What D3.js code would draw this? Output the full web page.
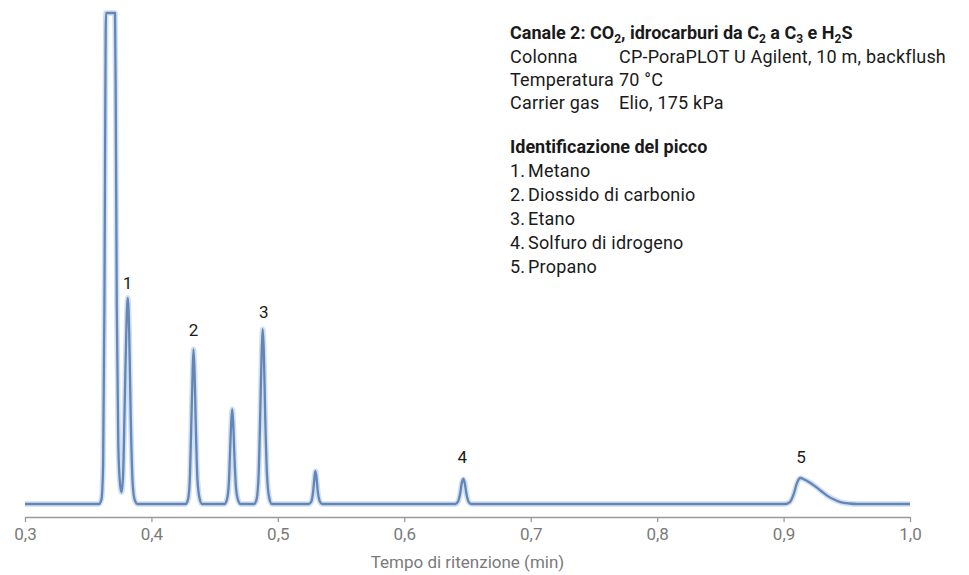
<!DOCTYPE html>
<html>
<head>
<meta charset="utf-8">
<script src="https://cdn.jsdelivr.net/npm/d3@7"></script>
<style>
  html, body { margin: 0; padding: 0; background: #ffffff; }
  svg { display: block; font-family: Roboto, "Noto Sans", sans-serif; }
</style>
</head>
<body>
<svg id="chart" width="969" height="575"></svg>
<script>
// ---- data ----
const traceTime = [
  0.300, 0.3585, 0.3605, 0.3618, 0.3628, 0.3635, 0.3640, 0.3712, 0.3718, 0.3726, 0.3738, 0.3752, 0.3764,
  0.3776, 0.3790, 0.3802, 0.3813, 0.3824, 0.3836, 0.3850, 0.3866, 0.3890,
  0.4270, 0.4290, 0.4305, 0.4318, 0.4326, 0.4333, 0.4341, 0.4350, 0.4364, 0.4382, 0.4400,
  0.4578, 0.4598, 0.4612, 0.4624, 0.4632, 0.4639, 0.4647, 0.4656, 0.4670, 0.4688, 0.4705,
  0.4812, 0.4832, 0.4848, 0.4862, 0.4872, 0.4880, 0.4889, 0.4899, 0.4914, 0.4932, 0.4952,
  0.5245, 0.5265, 0.5279, 0.5290, 0.5297, 0.5305, 0.5316, 0.5332, 0.5350,
  0.6405, 0.6425, 0.6441, 0.6455, 0.6467, 0.6478, 0.6492, 0.6510, 0.6530,
  0.9010, 0.9050, 0.9080, 0.9105, 0.9122, 0.9135, 0.9155, 0.9200, 0.9250, 0.9300, 0.9350, 0.9400, 0.9450, 0.9520, 0.9580, 1.000
];
const traceSignal = [
  0, 0, 1, 8, 40, 80, 100, 100, 80, 40, 12, 4, 2.4,
  6, 22, 36, 42, 35, 18, 5, 1, 0,
  0, 1, 6, 19, 27, 31.5, 27, 17, 5, 1, 0,
  0, 1, 4, 12, 17, 19.3, 16.5, 10, 3, 0.6, 0,
  0, 1, 6, 20, 31, 35.6, 31, 19, 6, 1.2, 0,
  0, 0.5, 2.5, 5.5, 6.7, 5.5, 2.5, 0.5, 0,
  0, 0.5, 2, 4.3, 5.1, 4.3, 2, 0.4, 0,
  0, 0.4, 2.0, 4.2, 5.1, 5.3, 5.1, 4.5, 3.6, 2.6, 1.6, 0.9, 0.4, 0.1, 0, 0
];
const peakLabels = ["1", "2", "3", "4", "5"];
const peakLabelTime = [0.3811, 0.4333, 0.4888, 0.6459, 0.9139];
const peakLabelSignal = [43.8, 34.2, 37.9, 8.35, 8.35];
const xTicks = [0.3, 0.4, 0.5, 0.6, 0.7, 0.8, 0.9, 1.0];
const xTitle = "Tempo di ritenzione (min)";
const infoRows = [
  ["Colonna", "CP-PoraPLOT U Agilent, 10 m, backflush"],
  ["Temperatura", "70 °C"],
  ["Carrier gas", "Elio, 175 kPa"]
];
const peakNames = ["Metano", "Diossido di carbonio", "Etano", "Solfuro di idrogeno", "Propano"];
const idTitle = "Identificazione del picco";

// ---- scales ----
const svg = d3.select("#chart");
const x = d3.scaleLinear().domain([0.3, 1.0]).range([25, 910]);
const y = d3.scaleLinear().domain([0, 100]).range([504, 13]);
const axisY = 517;

// ---- axis ----
const fmt = d => d3.format(".1f")(d).replace(".", ",");
const ax = svg.append("g")
  .attr("transform", `translate(0,${axisY})`)
  .call(d3.axisBottom(x).tickValues(xTicks).tickFormat(fmt).tickSize(5).tickSizeOuter(0).tickPadding(6));
ax.select(".domain").attr("stroke", "#9a9a9a").attr("stroke-width", 1.3);
ax.selectAll(".tick line").attr("stroke", "#9a9a9a").attr("stroke-width", 1.3);
ax.selectAll(".tick text").attr("fill", "#7a7a7a").attr("font-size", 17)
  .attr("font-family", "Roboto, sans-serif");

svg.append("text")
  .attr("x", (x.range()[0] + x.range()[1]) / 2).attr("y", 568)
  .attr("text-anchor", "middle").attr("fill", "#7a7a7a").attr("font-size", 17)
  .text(xTitle);

// ---- trace ----
const pts = traceTime.map((t, i) => [t, traceSignal[i]]);
const line = d3.line().x(d => x(d[0])).y(d => y(d[1])).curve(d3.curveMonotoneX);
svg.append("path").datum(pts).attr("d", line)
  .attr("fill", "none").attr("stroke", "#cfe0f4").attr("stroke-width", 5.5)
  .attr("stroke-linejoin", "round");
svg.append("path").datum(pts).attr("d", line)
  .attr("fill", "none").attr("stroke", "#6585b5").attr("stroke-width", 2.3)
  .attr("stroke-linejoin", "round");

// ---- peak labels ----
svg.append("g").selectAll("text").data(peakLabels).join("text")
  .attr("x", (d, i) => x(peakLabelTime[i]))
  .attr("y", (d, i) => y(peakLabelSignal[i]))
  .attr("text-anchor", "middle").attr("fill", "#1a1a1a").attr("font-size", 17)
  .text(d => d);

// ---- info block ----
const info = svg.append("g").attr("fill", "#1a1a1a").attr("font-size", 18).attr("letter-spacing", 0.2);
const tx = 510, vx = 619;
const title = info.append("text").attr("x", tx).attr("y", 39).attr("font-weight", "bold").attr("letter-spacing", 0);
const parts = [["Canale 2: CO", 0], ["2", 1], [", idrocarburi da C", 0], ["2", 1], [" a C", 0], ["3", 1], [" e H", 0], ["2", 1], ["S", 0]];
parts.forEach(([s, sub], i) => {
  const ts = title.append("tspan").text(s);
  if (sub) ts.attr("font-size", 12).attr("dy", 4);
  else if (i > 0) ts.attr("dy", -4);
});

infoRows.forEach((r, i) => {
  const yy = 63 + i * 23;
  info.append("text").attr("x", tx).attr("y", yy).text(r[0]);
  info.append("text").attr("x", vx).attr("y", yy).text(r[1]);
});
info.append("text").attr("x", tx).attr("y", 153).attr("font-weight", "bold").attr("letter-spacing", 0).text(idTitle);
peakNames.forEach((n, i) => {
  const yy = 177 + i * 24;
  info.append("text").attr("x", tx).attr("y", yy).text((i + 1) + ".");
  info.append("text").attr("x", tx + 18).attr("y", yy).text(n);
});
</script>
</body>
</html>
